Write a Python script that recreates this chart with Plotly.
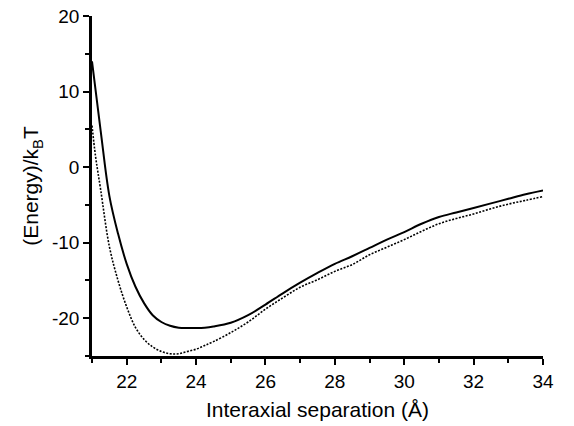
import plotly.graph_objects as go

# Solid curve
x_solid = [21.0, 21.25, 21.5, 21.75, 22.0, 22.25, 22.5, 22.75, 23.0, 23.25, 23.5, 23.75,
           24.0, 24.25, 24.5, 25.0, 25.5, 26.0, 26.5, 27.0, 27.5, 28.0, 28.5, 29.0, 29.5,
           30.0, 30.5, 31.0, 31.5, 32.0, 32.5, 33.0, 33.5, 34.0]
y_solid = [14.0, 4.8, -3.8, -8.8, -12.8, -15.8, -18.0, -19.6, -20.5, -21.0, -21.25, -21.3,
           -21.3, -21.25, -21.1, -20.6, -19.6, -18.2, -16.7, -15.3, -14.0, -12.8, -11.8, -10.7, -9.6,
           -8.6, -7.5, -6.6, -6.0, -5.4, -4.8, -4.2, -3.6, -3.1]

# Dotted curve
x_dot = [21.0, 21.1, 21.25, 21.5, 21.75, 22.0, 22.25, 22.5, 22.75, 23.0, 23.25, 23.5, 23.75,
         24.0, 24.25, 24.5, 25.0, 25.5, 26.0, 26.5, 27.0, 27.5, 28.0, 28.5, 29.0, 29.5,
         30.0, 30.5, 31.0, 31.5, 32.0, 32.5, 33.0, 33.5, 34.0]
y_dot = [5.5, 1.5, -3.0, -10.5, -15.0, -18.5, -21.2, -22.8, -23.8, -24.4, -24.7, -24.7, -24.4,
         -24.1, -23.6, -23.1, -21.9, -20.5, -18.8, -17.3, -15.9, -14.9, -13.8, -12.9, -11.6, -10.6,
         -9.6, -8.5, -7.5, -6.8, -6.2, -5.5, -4.9, -4.4, -3.9]

x_ticks = [22, 24, 26, 28, 30, 32, 34]
x_labels = ["22", "24", "26", "28", "30", "32", "34"]
y_ticks = [-20, -10, 0, 10, 20]
y_labels = ["-20", "-10", "0", "10", "20"]

fig = go.Figure()
fig.add_trace(go.Scatter(x=x_dot, y=y_dot, mode="lines", line_shape="spline",
                         line=dict(color="black", width=1.6, dash="2px,1.5px"), showlegend=False))
fig.add_trace(go.Scatter(x=x_solid, y=y_solid, mode="lines", line_shape="spline",
                         line=dict(color="black", width=2), showlegend=False))

tick_font = dict(family="Liberation Sans, Arial, sans-serif", size=19, color="black")
title_font = dict(family="Liberation Sans, Arial, sans-serif", size=21, color="black")

fig.update_layout(
    width=574, height=426,
    margin=dict(l=92, r=31, t=16, b=70),
    plot_bgcolor="white", paper_bgcolor="white",
    font=tick_font,
    xaxis=dict(range=[21, 34], showgrid=False, zeroline=False, automargin=False,
               showline=True, linecolor="black", linewidth=2.5,
               ticks="outside", ticklen=6, tickwidth=2, tickcolor="black",
               tickvals=x_ticks, ticktext=x_labels, tickfont=tick_font,
               ticklabeloverflow="allow",
               minor=dict(ticks="outside", ticklen=4, tickwidth=2, tickcolor="black",
                          tick0=21, dtick=1, showgrid=False),
               title=dict(text="Interaxial separation (Å)", font=title_font, standoff=12)),
    yaxis=dict(range=[-25, 20], showgrid=False, zeroline=False, automargin=False,
               showline=True, linecolor="black", linewidth=2.5,
               ticks="outside", ticklen=6, tickwidth=2, tickcolor="black",
               tickvals=y_ticks, ticktext=y_labels, tickfont=tick_font,
               ticklabeloverflow="allow",
               minor=dict(ticks="outside", ticklen=4, tickwidth=2, tickcolor="black",
                          tick0=-25, dtick=5, showgrid=False),
               title=dict(text="(Energy)/k<sub>B</sub>T", font=title_font, standoff=8)),
)

fig.write_html("out.html", config={"displayModeBar": False},
               post_script="document.body.style.margin='0';")
